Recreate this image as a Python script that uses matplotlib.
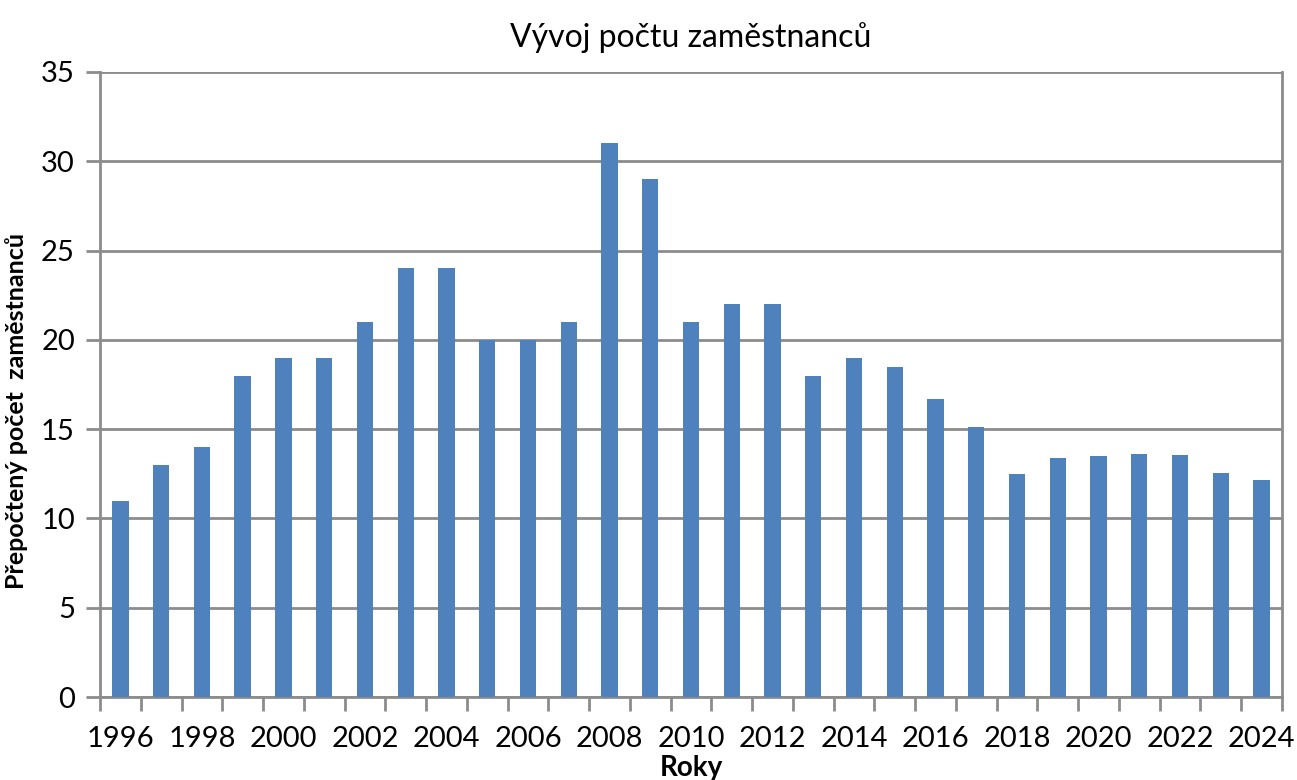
import numpy as np
import matplotlib.pyplot as plt

years = list(range(1996, 2025))
values = [11, 13, 14, 18, 19, 19, 21, 24, 24, 20, 20, 21, 31, 29, 21, 22, 22,
          18, 19, 18.5, 16.7, 15.1, 12.5, 13.4, 13.5, 13.6, 13.55, 12.55, 12.15]

plt.rcParams['font.family'] = ['Lato', 'DejaVu Sans']

fig = plt.figure(figsize=(12.97, 7.80), dpi=100)
ax = fig.add_axes([0.0771, 0.1064, 0.9113, 0.8013])

x = np.arange(len(years))
ax.bar(x, values, width=0.4, color='#4f81bd', zorder=3)

ax.set_xlim(-0.5, len(years) - 0.5)
ax.set_ylim(0, 35)
ax.set_yticks(range(0, 36, 5))
ax.yaxis.grid(True, color='#8c8c8c', linewidth=2, zorder=0)

# labels every second year at category centres, tick marks at boundaries
ax.set_xticks(x[::2])
ax.set_xticklabels([str(y) for y in years[::2]])
ax.set_xticks(np.arange(-0.5, len(years)), minor=True)
ax.tick_params(axis='x', which='major', length=0, labelsize=21, pad=21)
ax.tick_params(axis='x', which='minor', length=10, width=2, color='#8c8c8c')
ax.tick_params(axis='y', length=10, width=2, color='#8c8c8c', labelsize=21, pad=8)

for s in ax.spines.values():
    s.set_color('#8c8c8c')
    s.set_linewidth(2)
ax.spines['top'].set_visible(False)

ax.set_title('Vývoj počtu zaměstnanců', fontsize=23, pad=18)
ax.set_ylabel('Přepočtený počet  zaměstnanců', fontsize=18, fontweight='bold')
ax.yaxis.set_label_coords(-0.061, 0.458)
ax.set_xlabel('Roky', fontsize=20, fontweight='bold')
ax.xaxis.set_label_coords(0.5, -0.093)

fig.savefig('out.png', dpi=100)
